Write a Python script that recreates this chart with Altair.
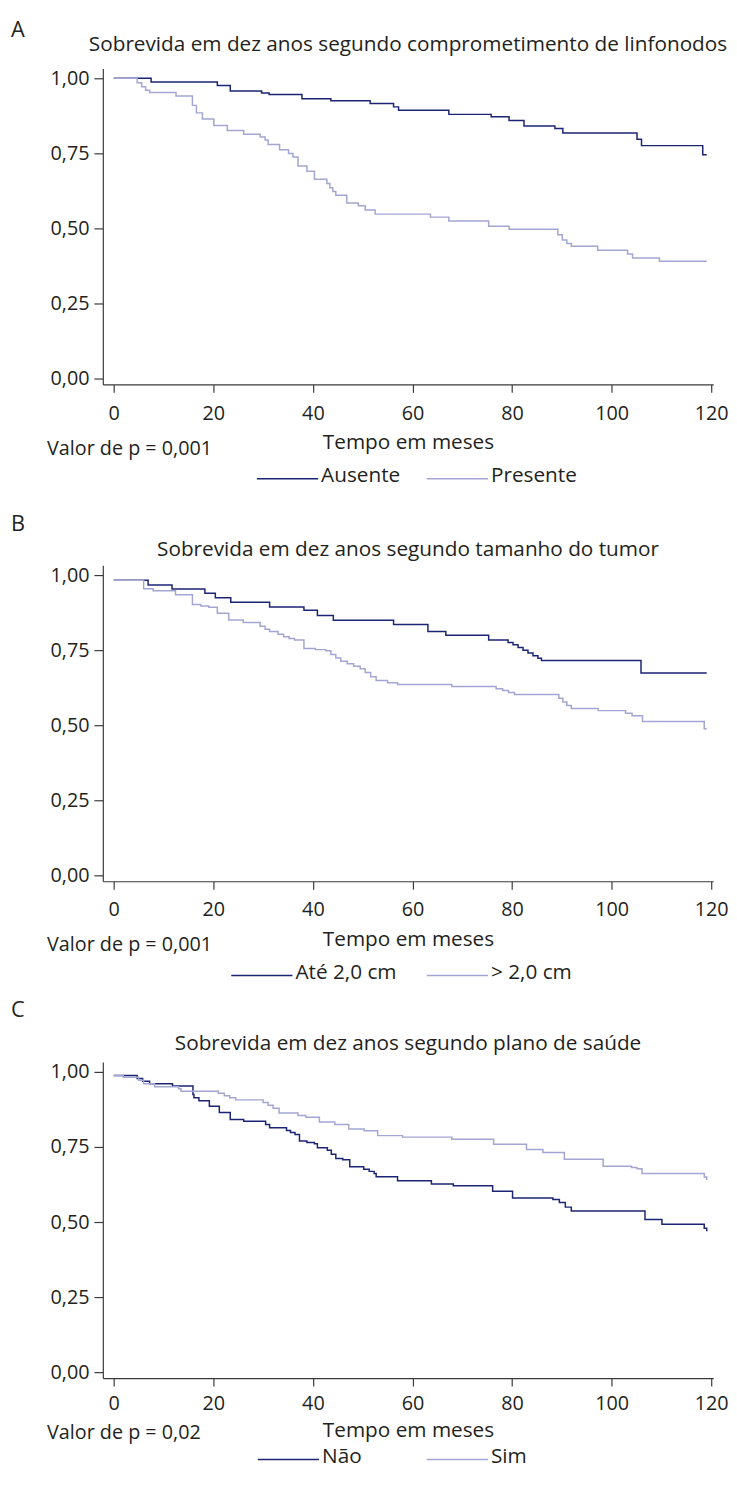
import altair as alt
import pandas as pd

FONT = "Open Sans"
DARK = "#1b2574"
LIGHT = "#a3a6d2"
TEXT = "#231f20"
AXIS = "#3a3a3a"

# ---------------- Panel A: comprometimento de linfonodos ----------------
a_names = ["Ausente", "Presente"]
a_aus_t = [0, 7.5, 20.8, 23.4, 29.7, 31.2, 37.8, 43.6, 51.5, 56.2, 57.2, 67.3, 75.8, 79.4, 82.4, 88.6, 90.2, 105.1, 106.0, 118.3, 119.1]
a_aus_s = [1.000, 0.988, 0.976, 0.958, 0.951, 0.946, 0.932, 0.925, 0.916, 0.905, 0.894, 0.880, 0.872, 0.860, 0.841, 0.833, 0.818, 0.797, 0.776, 0.746, 0.746]
a_pre_t = [0, 4.7, 5.6, 6.4, 7.2, 12.5, 15.8, 16.6, 17.8, 20.1, 22.8, 26.1, 29.4, 30.4, 31.0, 33.3, 35.1, 36.0, 37.0, 38.8, 40.3, 42.8, 43.4, 44.0, 44.6, 46.8, 49.1, 50.5, 52.5, 63.6, 67.3, 75.3, 79.4, 89.2, 90.1, 91.0, 91.9, 97.2, 103.2, 104.2, 109.6, 119.1]
a_pre_s = [1.000, 0.985, 0.972, 0.960, 0.953, 0.941, 0.910, 0.885, 0.865, 0.843, 0.826, 0.814, 0.805, 0.795, 0.780, 0.762, 0.750, 0.738, 0.708, 0.691, 0.664, 0.650, 0.636, 0.623, 0.611, 0.585, 0.576, 0.562, 0.548, 0.538, 0.525, 0.508, 0.498, 0.479, 0.462, 0.450, 0.441, 0.428, 0.415, 0.402, 0.391, 0.391]

# ---------------- Panel B: tamanho do tumor ----------------
b_names = ["Até 2,0 cm", "> 2,0 cm"]
b_ate_t = [0, 6.9, 11.7, 18.3, 20.4, 23.5, 31.3, 38.2, 40.9, 44.1, 56.2, 63.1, 66.7, 75.3, 79.2, 80.2, 81.2, 82.2, 83.2, 84.2, 85.2, 85.9, 105.9, 119.1]
b_ate_s = [0.983, 0.967, 0.954, 0.940, 0.925, 0.910, 0.894, 0.883, 0.866, 0.850, 0.836, 0.812, 0.800, 0.784, 0.776, 0.768, 0.759, 0.750, 0.741, 0.732, 0.723, 0.716, 0.674, 0.674]
b_gt_t = [0, 6.0, 7.9, 12.4, 15.8, 17.5, 19.1, 20.8, 23.1, 26.0, 29.4, 30.4, 31.3, 33.0, 34.1, 35.2, 36.3, 38.2, 40.5, 42.6, 43.6, 44.6, 45.6, 46.9, 48.2, 49.5, 50.5, 51.6, 52.7, 55.0, 57.0, 67.9, 76.8, 78.1, 79.3, 80.5, 89.4, 90.2, 91.0, 91.9, 97.3, 102.8, 104.1, 106.2, 118.6, 119.1]
b_gt_s = [0.983, 0.955, 0.948, 0.935, 0.902, 0.897, 0.893, 0.873, 0.851, 0.842, 0.830, 0.820, 0.812, 0.803, 0.795, 0.789, 0.784, 0.756, 0.752, 0.748, 0.736, 0.724, 0.713, 0.705, 0.697, 0.688, 0.676, 0.662, 0.649, 0.642, 0.636, 0.629, 0.622, 0.616, 0.609, 0.603, 0.590, 0.578, 0.566, 0.556, 0.549, 0.540, 0.532, 0.513, 0.489, 0.489]

# ---------------- Panel C: plano de saúde ----------------
c_names = ["Não", "Sim"]
c_nao_t = [0, 4.7, 5.8, 7.2, 11.8, 15.9, 16.1, 17.1, 19.2, 21.2, 23.4, 26.1, 30.5, 31.3, 34.7, 35.5, 36.4, 37.3, 38.8, 40.3, 40.9, 42.9, 43.7, 44.6, 46.0, 47.4, 50.2, 51.3, 52.3, 52.7, 57.0, 63.8, 68.2, 76.1, 80.1, 88.2, 89.5, 90.7, 91.9, 106.7, 110.1, 118.6, 119.1]
c_nao_s = [0.988, 0.978, 0.969, 0.961, 0.953, 0.925, 0.914, 0.904, 0.886, 0.865, 0.842, 0.836, 0.825, 0.814, 0.805, 0.798, 0.792, 0.770, 0.765, 0.761, 0.748, 0.739, 0.726, 0.712, 0.708, 0.684, 0.676, 0.669, 0.662, 0.651, 0.638, 0.627, 0.621, 0.603, 0.580, 0.575, 0.565, 0.550, 0.537, 0.509, 0.493, 0.480, 0.470]
c_sim_t = [0, 1.9, 5.0, 6.0, 8.2, 13.0, 13.5, 21.0, 22.2, 23.3, 24.5, 30.0, 31.0, 32.0, 33.2, 37.0, 38.6, 41.3, 44.4, 47.2, 50.3, 53.0, 58.0, 67.9, 76.3, 82.9, 86.2, 90.5, 98.3, 104.0, 105.1, 106.1, 118.6, 119.1]
c_sim_s = [0.988, 0.982, 0.972, 0.961, 0.951, 0.944, 0.936, 0.929, 0.921, 0.914, 0.907, 0.898, 0.889, 0.879, 0.863, 0.855, 0.849, 0.833, 0.825, 0.810, 0.804, 0.788, 0.783, 0.776, 0.759, 0.742, 0.732, 0.709, 0.686, 0.682, 0.678, 0.662, 0.650, 0.640]

x_ticks = [0, 20, 40, 60, 80, 100, 120]
y_ticks = [0, 0.25, 0.5, 0.75, 1.0]

W, H = 618, 320
# legend symbol: a 62 px stroke inside a 21 px layout box
SYM_PATH = "M-1,0.2H4.905"


def panel(letter, title, pval, names, series, letter_y, title_y, legend_x, col_pad,
          legend_c, p_c, x_label_pad, x_title_pad):
    rows = []
    for name, (ts, ss) in zip(names, series):
        for t, s in zip(ts, ss):
            rows.append({"grupo": name, "tempo": t, "sobrevida": s})
    df = pd.DataFrame(rows)

    x = alt.X("tempo:Q",
              scale=alt.Scale(domain=[-2.2, 120.4], nice=False, zero=False),
              axis=alt.Axis(values=x_ticks, title="Tempo em meses", labelFlush=False,
                            labelOverlap=False, labelPadding=x_label_pad,
                            titlePadding=x_title_pad))
    y = alt.Y("sobrevida:Q",
              scale=alt.Scale(domain=[-0.019, 1.033], nice=False, zero=False),
              axis=alt.Axis(values=y_ticks, title=None,
                            labelExpr="replace(format(datum.value, '.2f'), '.', ',')"))
    color = alt.Color("grupo:N",
                      scale=alt.Scale(domain=names, range=[DARK, LIGHT]),
                      legend=alt.Legend(orient="none", legendX=legend_x,
                                        legendY=H + legend_c - 10.5,
                                        direction="horizontal", title=None,
                                        symbolType=SYM_PATH, symbolSize=441,
                                        symbolStrokeWidth=1.5, labelFontSize=21,
                                        labelFont=FONT, labelColor=TEXT, labelOffset=43,
                                        columnPadding=col_pad, padding=0))
    lines = alt.Chart(df).mark_line(interpolate="step-after", strokeWidth=1.5).encode(
        x=x, y=y, color=color)

    txt = pd.DataFrame({"letra": [letter], "titulo": [title], "p": [pval]})
    base = alt.Chart(txt)
    letter_mark = base.mark_text(align="left", baseline="alphabetic", fontSize=22,
                                 font=FONT, color=TEXT).encode(
        text="letra:N", x=alt.value(-93), y=alt.value(letter_y))
    title_mark = base.mark_text(align="center", baseline="alphabetic", fontSize=21,
                                font=FONT, color=TEXT).encode(
        text="titulo:N", x=alt.value(W / 2), y=alt.value(title_y))
    p_mark = base.mark_text(align="left", baseline="middle", fontSize=20,
                            font=FONT, color=TEXT).encode(
        text="p:N", x=alt.value(-56.5), y=alt.value(H + p_c))

    return alt.layer(lines, letter_mark, title_mark, p_mark).properties(width=W, height=H)


pA = panel("A", "Sobrevida em dez anos segundo comprometimento de linfonodos",
           "Valor de p = 0,001", a_names,
           [(a_aus_t, a_aus_s), (a_pre_t, a_pre_s)], -32, -18, 155, 23, 92, 65, 11, 9)
pB = panel("B", "Sobrevida em dez anos segundo tamanho do tumor",
           "Valor de p = 0,001", b_names,
           [(b_ate_t, b_ate_s), (b_gt_t, b_gt_s)], -35, -9, 129, 27, 92, 65, 11, 9)
pC = panel("C", "Sobrevida em dez anos segundo plano de saúde",
           "Valor de p = 0,02", c_names,
           [(c_nao_t, c_nao_s), (c_sim_t, c_sim_s)], -46, -12, 156, 62, 79, 56, 8, 6)

chart = alt.vconcat(pA, pB, pC, spacing=183, bounds="flush").resolve_scale(
    color="independent"
).resolve_legend(color="independent").properties(
    padding={"left": 3, "top": 2, "right": 0, "bottom": 0}
).configure_view(stroke=None).configure_axis(
    domainColor=AXIS, tickColor=AXIS, labelColor=TEXT, titleColor=TEXT,
    labelFont=FONT, titleFont=FONT, grid=False, labelFontSize=20,
    titleFontSize=21, titleFontWeight="normal", domainWidth=1.2, tickWidth=1.2
).configure_axisX(tickSize=8).configure_axisY(tickSize=9, labelPadding=5)

chart.save("out.html", embed_options={"renderer": "svg", "actions": False})
